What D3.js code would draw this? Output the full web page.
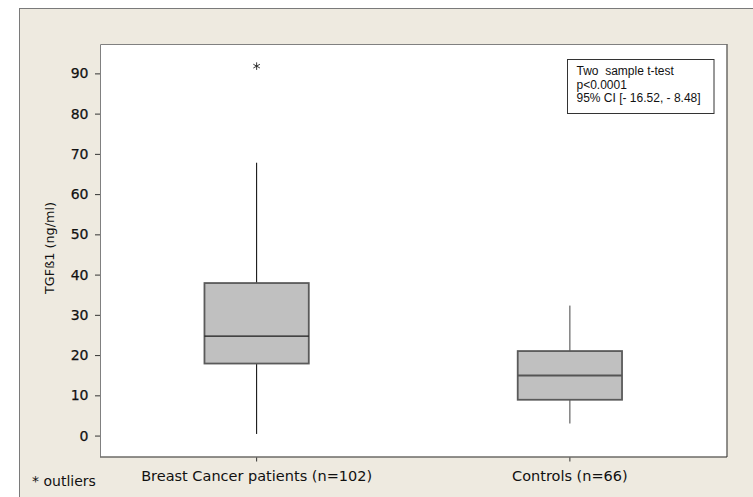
<!DOCTYPE html>
<html>
<head>
<meta charset="utf-8">
<script src="https://cdn.jsdelivr.net/npm/d3@7"></script>
<style>
html, body { margin: 0; padding: 0; background: #ffffff; }
svg { display: block; }
</style>
</head>
<body>
<svg id="chart" width="753" height="497"></svg>
<script>
// ---- data ----
const categories = ["Breast Cancer patients (n=102)", "Controls (n=66)"];
const whiskerLow = [0.4, 3.0];
const q1 = [17.9, 8.9];
const median = [24.7, 14.9];
const q3 = [37.9, 21.0];
const whiskerHigh = [67.8, 32.3];
const outliers = [[91.8], []];
const yTicks = [0, 10, 20, 30, 40, 50, 60, 70, 80, 90];
const statLines = ["Two  sample t-test", "p<0.0001", "95% CI [- 16.52, - 8.48]"];
const yLabel = "TGFß1 (ng/ml)";
const footnote = "* outliers";

const svg = d3.select("#chart");
const W = 753, H = 497;
const FONT = "DejaVu Sans, Verdana, sans-serif";

// outer panel
svg.append("rect").attr("x", 19.5).attr("y", 8.5).attr("width", W).attr("height", H)
  .attr("fill", "#eeeae0").attr("stroke", "#7a7a7a").attr("stroke-width", 1);

const plot = { left: 100, top: 44, right: 726.5, bottom: 456.5 };

const y = d3.scaleLinear().domain([-5.2, 97.3]).range([plot.bottom, plot.top]);
const x = d3.scaleBand().domain(categories).range([plot.left, plot.right]).paddingInner(0).paddingOuter(0);
const boxW = x.bandwidth() * 0.333;

// plot area
svg.append("rect").attr("x", plot.left).attr("y", plot.top)
  .attr("width", plot.right - plot.left).attr("height", plot.bottom - plot.top)
  .attr("fill", "#ffffff");
svg.append("path")
  .attr("d", `M${plot.left + 0.5},${plot.bottom}V${plot.top + 0.5}H${plot.right}`)
  .attr("fill", "none").attr("stroke", "#808080").attr("stroke-width", 1);
svg.append("path")
  .attr("d", `M${plot.left},${plot.bottom + 0.5}H${plot.right + 0.5}V${plot.top}`)
  .attr("fill", "none").attr("stroke", "#2a2a2a").attr("stroke-width", 1);

// y axis
const yAxis = d3.axisLeft(y).tickValues(yTicks).tickSize(5).tickPadding(6.5);
const gy = svg.append("g").attr("transform", `translate(${plot.left},0)`).call(yAxis);
gy.select(".domain").remove();
gy.selectAll(".tick line").attr("stroke", "#333");
gy.selectAll(".tick text").attr("font-family", FONT)
  .attr("font-size", 14).attr("fill", "#111").attr("stroke", "#111").attr("stroke-width", 0.25);

// x axis
const xAxis = d3.axisBottom(x).tickSize(4).tickPadding(9);
const gx = svg.append("g").attr("transform", `translate(0,${plot.bottom + 1})`).call(xAxis);
gx.select(".domain").remove();
gx.selectAll(".tick line").attr("stroke", "#333");
gx.selectAll(".tick text").attr("font-family", FONT)
  .attr("font-size", 14.5).attr("fill", "#111");

// y label
svg.append("text")
  .attr("transform", `translate(54,${248}) rotate(-90)`)
  .attr("text-anchor", "middle")
  .attr("font-family", FONT)
  .attr("font-size", 12.8).attr("fill", "#111")
  .text(yLabel);

// boxes
const groups = svg.append("g").selectAll("g").data(categories).join("g");
groups.each(function (c, i) {
  const g = d3.select(this);
  const cx = x(c) + x.bandwidth() / 2;
  g.append("line").attr("x1", cx).attr("x2", cx).attr("y1", y(q3[i])).attr("y2", y(whiskerHigh[i]))
    .attr("stroke", i === 0 ? "#000" : "#444").attr("stroke-width", 1);
  g.append("line").attr("x1", cx).attr("x2", cx).attr("y1", y(q1[i])).attr("y2", y(whiskerLow[i]))
    .attr("stroke", i === 0 ? "#000" : "#444").attr("stroke-width", 1);
  g.append("rect").attr("x", cx - boxW / 2).attr("y", y(q3[i]))
    .attr("width", boxW).attr("height", y(q1[i]) - y(q3[i]))
    .attr("fill", "#c0c0c0").attr("stroke", "#5a5a5a").attr("stroke-width", 1.8);
  g.append("line").attr("x1", cx - boxW / 2).attr("x2", cx + boxW / 2)
    .attr("y1", y(median[i])).attr("y2", y(median[i]))
    .attr("stroke", i === 0 ? "#1a1a1a" : "#555").attr("stroke-width", i === 0 ? 1.3 : 2);
  g.selectAll("path.out").data(outliers[i]).join("path").attr("class", "out")
    .attr("transform", v => `translate(${cx},${y(v)})`)
    .attr("d", d3.symbol().type(d3.symbolAsterisk).size(40))
    .attr("fill", "none").attr("stroke", "#222").attr("stroke-width", 0.9);
});

// stats box
const sb = { x: 567.5, y: 59.5, w: 146.5, h: 54 };
svg.append("rect").attr("x", sb.x).attr("y", sb.y).attr("width", sb.w).attr("height", sb.h)
  .attr("fill", "#fff").attr("stroke", "#333").attr("stroke-width", 1);
svg.append("g").selectAll("text").data(statLines).join("text")
  .attr("x", 576.5).attr("y", (d, i) => 75 + i * 13.6)
  .attr("font-family", "Liberation Sans, Arial, sans-serif")
  .attr("font-size", 12).attr("fill", "#111")
  .attr("xml:space", "preserve")
  .style("white-space", "pre")
  .text(d => d);

// footnote
svg.append("text").attr("x", 32).attr("y", 486)
  .attr("font-family", FONT)
  .attr("font-size", 14).attr("fill", "#111")
  .text(footnote);
</script>
</body>
</html>
